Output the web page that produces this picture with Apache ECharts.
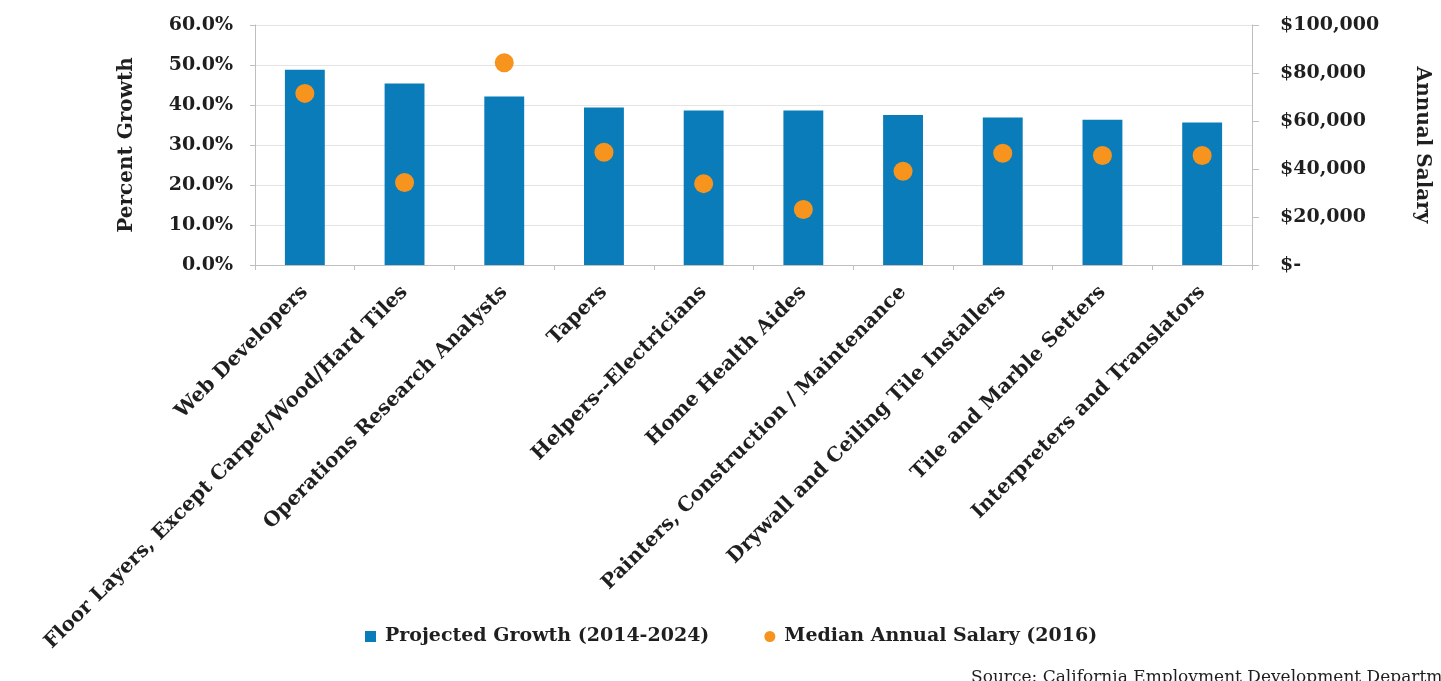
<!DOCTYPE html>
<html>
<head>
<meta charset="utf-8">
<style>
  html, body { margin: 0; padding: 0; background: #ffffff; }
  #chart { width: 1441px; height: 681px; }
</style>
<script src="https://cdn.jsdelivr.net/npm/echarts@6/dist/echarts.min.js"></script>
</head>
<body>
<div id="chart"></div>
<script>
// Occupations, in order of projected growth
const categories = [
  'Web Developers',
  'Floor Layers, Except Carpet/Wood/Hard Tiles',
  'Operations Research Analysts',
  'Tapers',
  'Helpers--Electricians',
  'Home Health Aides',
  'Painters, Construction / Maintenance',
  'Drywall and Ceiling Tile Installers',
  'Tile and Marble Setters',
  'Interpreters and Translators'
];

// Projected growth 2014-2024, percent
const projectedGrowth = [48.8, 45.4, 42.1, 39.4, 38.6, 38.6, 37.5, 36.9, 36.3, 35.6];

// Median annual salary 2016, dollars
const medianSalary = [71500, 34400, 84300, 47000, 33900, 23100, 39100, 46600, 45600, 45600];

// Axis tick labels
const growthTicks = ['0.0%', '10.0%', '20.0%', '30.0%', '40.0%', '50.0%', '60.0%'];
const salaryTicks = ['$-', '$20,000', '$40,000', '$60,000', '$80,000', '$100,000'];

const seriesNames = ['Projected Growth (2014-2024)', 'Median Annual Salary (2016)'];
const sourceNote = 'Source: California Employment Development Department';

const FONT = 'DejaVu Serif';
const TEXT = '#1f1f1f';
const AXIS = '#bfbfbf';
const BLUE = '#0a7cb9';
const ORANGE = '#f7941d';

const chart = echarts.init(document.getElementById('chart'), null, { renderer: 'canvas' });

chart.setOption({
  animation: false,
  backgroundColor: '#ffffff',
  title: {
    text: sourceNote,
    left: 966,
    top: 664,
    textStyle: { fontFamily: FONT, fontSize: 17, fontWeight: 'normal', color: TEXT }
  },
  legend: {
    data: [
      { name: seriesNames[0], icon: 'rect' },
      { name: seriesNames[1], icon: 'circle' }
    ],
    left: 360,
    top: 622,
    itemWidth: 11,
    itemHeight: 11,
    itemGap: 55,
    textStyle: { fontFamily: FONT, fontSize: 19, fontWeight: 'bold', color: TEXT, padding: [0, 0, 0, 4] }
  },
  grid: { left: 255, right: 189, top: 25, bottom: 416, containLabel: false },
  xAxis: {
    type: 'category',
    data: categories,
    axisLine: { lineStyle: { color: AXIS, width: 1 } },
    axisTick: { show: true, length: 5, lineStyle: { color: AXIS } },
    axisLabel: {
      interval: 0,
      rotate: 45,
      margin: 24,
      fontFamily: FONT,
      fontSize: 20,
      fontWeight: 'bold',
      color: TEXT
    }
  },
  yAxis: [
    {
      type: 'value',
      min: 0,
      max: 60,
      interval: 10,
      name: 'Percent Growth',
      nameLocation: 'middle',
      nameGap: 118,
      nameTextStyle: { fontFamily: FONT, fontSize: 20, fontWeight: 'bold', color: TEXT },
      axisLine: { show: true, lineStyle: { color: AXIS } },
      axisTick: { show: true, length: 5, lineStyle: { color: AXIS } },
      axisLabel: {
        margin: 22,
        fontFamily: FONT,
        fontSize: 19,
        fontWeight: 'bold',
        color: TEXT,
        formatter: v => growthTicks[Math.round(v / 10)]
      },
      splitLine: { show: true, lineStyle: { color: '#e4e4e4', width: 1 } }
    },
    {
      type: 'value',
      min: 0,
      max: 100000,
      interval: 20000,
      position: 'right',
      name: 'Annual Salary',
      nameLocation: 'middle',
      nameRotate: -90,
      nameGap: 160,
      nameTextStyle: { fontFamily: FONT, fontSize: 20, fontWeight: 'bold', color: TEXT },
      axisLine: { show: true, lineStyle: { color: AXIS } },
      axisTick: { show: true, length: 7, lineStyle: { color: AXIS } },
      axisLabel: {
        margin: 28,
        fontFamily: FONT,
        fontSize: 19,
        fontWeight: 'bold',
        color: TEXT,
        formatter: v => salaryTicks[Math.round(v / 20000)]
      },
      splitLine: { show: false }
    }
  ],
  series: [
    {
      name: seriesNames[0],
      type: 'bar',
      yAxisIndex: 0,
      data: projectedGrowth,
      barWidth: '40%',
      itemStyle: { color: BLUE }
    },
    {
      name: seriesNames[1],
      type: 'scatter',
      yAxisIndex: 1,
      data: medianSalary,
      symbol: 'circle',
      symbolSize: 19,
      itemStyle: { color: ORANGE, opacity: 1 },
      z: 5
    }
  ]
});
</script>
</body>
</html>
